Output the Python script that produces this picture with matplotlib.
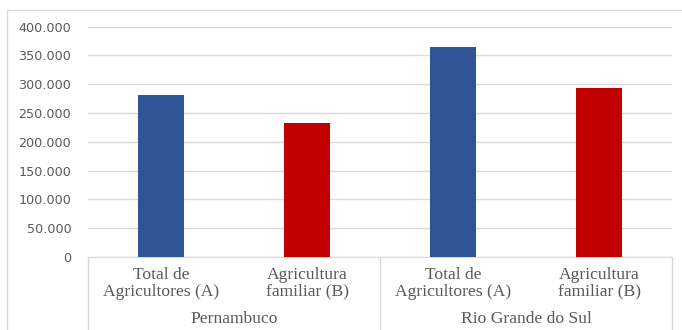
"""Agricultores totais vs. agricultura familiar, Pernambuco e Rio Grande do Sul."""

import matplotlib
matplotlib.use("Agg")
import matplotlib.pyplot as plt
import matplotlib.transforms as mtransforms
from matplotlib.patches import Rectangle
from matplotlib.ticker import FuncFormatter, MultipleLocator

# data
categories = ["Total de\nAgricultores (A)", "Agricultura\nfamiliar (B)",
              "Total de\nAgricultores (A)", "Agricultura\nfamiliar (B)"]
groups = ["Pernambuco", "Rio Grande do Sul"]
values = [281688, 232611, 365094, 293892]
colors = ["#2F5597", "#C00000", "#2F5597", "#C00000"]

W, H = 682, 330
fig = plt.figure(figsize=(W / 100, H / 100), dpi=100)
ax = fig.add_axes([88 / W, (H - 257) / H, (672 - 88) / W, (257 - 26.7) / H])

x = list(range(len(values)))
ax.bar(x, values, width=0.32, color=colors, zorder=3)

ax.set_xlim(-0.5, len(values) - 0.5)
ax.set_ylim(0, 400000)
ax.yaxis.set_major_locator(MultipleLocator(50000))
ax.yaxis.set_major_formatter(FuncFormatter(lambda v, _: f"{int(v):,}".replace(",", ".")))
ax.grid(axis="y", color="#D9D9D9", linewidth=1, zorder=0)
for side in ["top", "right", "left"]:
    ax.spines[side].set_visible(False)
ax.spines["bottom"].set_color("#D9D9D9")
ax.tick_params(axis="y", length=0, pad=12, labelsize=9.2, labelcolor="#595959")
ax.tick_params(axis="x", length=0, labelbottom=False)

# multi-level category axis
trans = mtransforms.blended_transform_factory(ax.transData, fig.transFigure)
serif = ["Liberation Serif", "DejaVu Serif"]
for xi, label in zip(x, categories):
    line1, line2 = label.split("\n")
    ax.text(xi, (H - 275) / H, line1, transform=trans, ha="center", va="center",
            family=serif, fontsize=12.6, color="#595959")
    ax.text(xi, (H - 291.7) / H, line2, transform=trans, ha="center", va="center",
            family=serif, fontsize=12.6, color="#595959")
for gi, name in enumerate(groups):
    ax.text(2 * gi + 0.5, (H - 319) / H, name, transform=trans, ha="center", va="center",
            family=serif, fontsize=12.6, color="#595959")
for xs in [-0.5, 1.5, 3.5]:
    ax.plot([xs, xs], [(H - 257) / H, -0.05], transform=trans, color="#D9D9D9",
            linewidth=1, clip_on=False)

# chart frame
fig.patches.append(Rectangle((7 / W, -0.1), 1.0, (H - 10) / H + 0.1, transform=fig.transFigure,
                             fill=False, edgecolor="#D9D9D9", linewidth=1))

fig.savefig("out.png", dpi=100)
